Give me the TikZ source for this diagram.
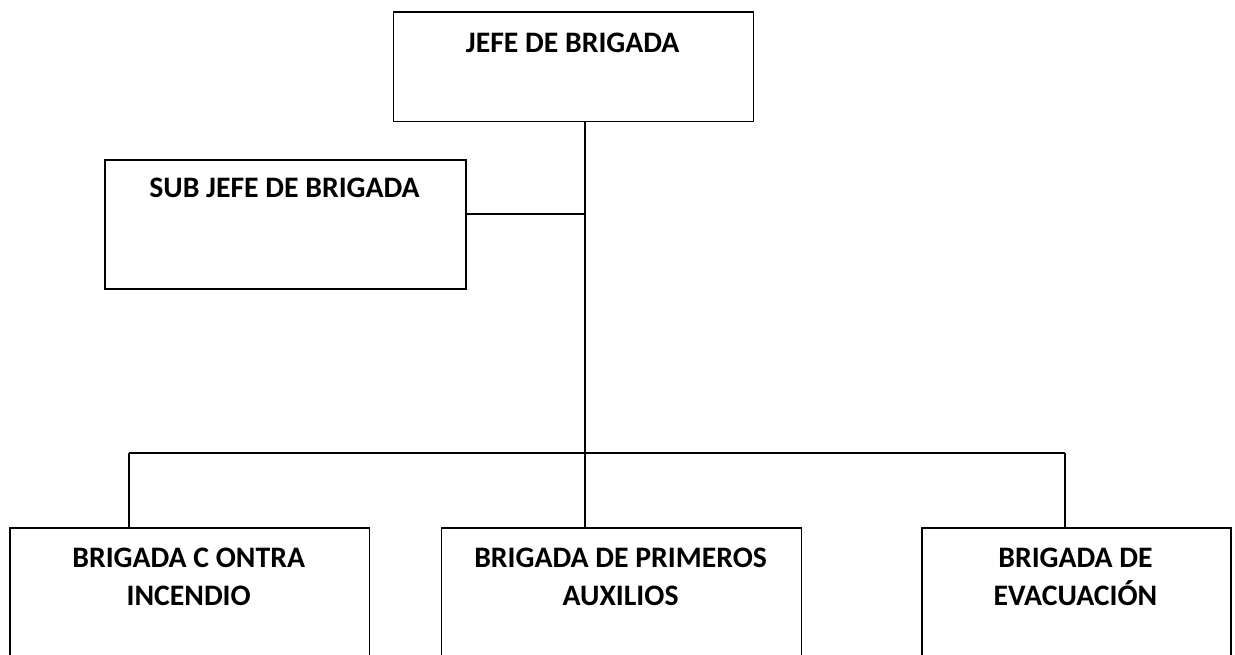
\documentclass[tikz,border=0pt]{standalone}
\usepackage{fontspec}
\setmainfont{Carlito}
\begin{document}
\begin{tikzpicture}[x=0.75pt,y=-0.75pt,
  box/.style={draw=black,line width=1.3pt,fill=none,inner sep=0pt,anchor=north west},
  lbl/.style={anchor=north,inner sep=0pt,align=center,font=\fontsize{22.3}{28.5}\selectfont\bfseries},
  conn/.style={draw=black,line width=1.2pt}]
\clip (0,0) rectangle (1235,654);
\fill[white] (0,0) rectangle (1235,654);
% boxes
\node[box,minimum width=360*0.75pt,minimum height=109.7*0.75pt] (jefe) at (392.7,11) {};
\node[box,minimum width=361*0.75pt,minimum height=129*0.75pt] (sub) at (104,159) {};
\node[box,minimum width=359.5*0.75pt,minimum height=200*0.75pt] (bl) at (9,527) {};
\node[box,minimum width=360.2*0.75pt,minimum height=200*0.75pt] (bm) at (440.5,527) {};
\node[box,minimum width=309*0.75pt,minimum height=200*0.75pt] (br) at (921,527) {};
% labels
\node[lbl] (tjefe) at (572.7,33) {JEFE DE BRIGADA};
\node[lbl] (tsub) at (284.5,178) {SUB JEFE DE BRIGADA};
\node[lbl] (tbl) at (188.7,548) {BRIGADA C ONTRA\\INCENDIO};
\node[lbl] (tbm) at (620.6,548) {BRIGADA DE PRIMEROS\\AUXILIOS};
\node[lbl] (tbr) at (1075.5,548) {BRIGADA DE\\EVACUACIÓN};
% connector points
\coordinate (bus) at (584.7,453);
\coordinate (sj) at (584.7,214);
\coordinate (dl) at (129,453);
\coordinate (dr) at (1064.7,453);
% connectors
\draw[conn] (jefe.south -| bus) -- (bus);
\draw[conn] (sj -| sub.east) -- (sj);
\draw[conn] (dl) -- (dr);
\draw[conn] (dl) -- (dl |- bl.north);
\draw[conn] (bus) -- (bus |- bm.north);
\draw[conn] (dr) -- (dr |- br.north);
\end{tikzpicture}
\end{document}
